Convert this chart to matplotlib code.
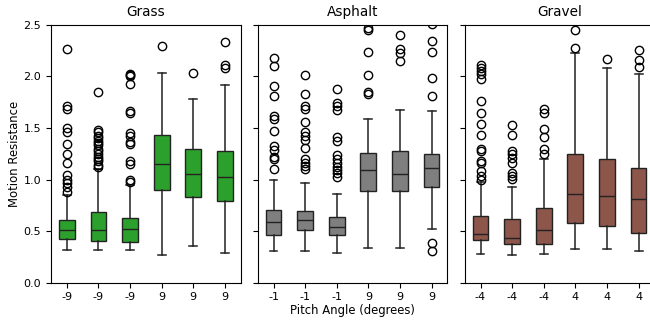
import matplotlib
matplotlib.use('Agg')
import matplotlib.pyplot as plt

# box statistics (q1, median, q3, whisker ends, outliers)
grass_labels = ['-9', '-9', '-9', '9', '9', '9']
grass_q1 = [0.426, 0.404, 0.397, 0.898, 0.827, 0.789]
grass_med = [0.508, 0.511, 0.517, 1.150, 1.053, 1.024]
grass_q3 = [0.607, 0.688, 0.624, 1.431, 1.300, 1.280]
grass_lo = [0.317, 0.317, 0.317, 0.269, 0.359, 0.285]
grass_hi = [0.850, 1.100, 0.947, 2.029, 1.780, 1.913]
grass_fliers = [
    [2.265, 1.71, 1.68, 1.50, 1.46, 1.34, 1.245, 1.16, 1.04, 1.00, 0.97, 0.93, 0.88],
    [1.85, 1.48, 1.46, 1.42, 1.40, 1.37, 1.35, 1.33, 1.30, 1.28, 1.25, 1.22,
     1.20, 1.18, 1.14, 1.12],
    [2.02, 2.01, 2.00, 1.93, 1.66, 1.64, 1.45, 1.42, 1.36, 1.34, 1.18, 1.15,
     1.00, 0.98],
    [2.29],
    [2.035],
    [2.33, 2.11, 2.08],
]

asphalt_labels = ['-1', '-1', '-1', '9', '9', '9']
asphalt_q1 = [0.459, 0.511, 0.462, 0.886, 0.886, 0.930]
asphalt_med = [0.585, 0.608, 0.537, 1.092, 1.056, 1.108]
asphalt_q3 = [0.704, 0.695, 0.640, 1.254, 1.276, 1.247]
asphalt_lo = [0.310, 0.310, 0.290, 0.339, 0.339, 0.523]
asphalt_hi = [0.995, 0.963, 0.857, 1.586, 1.673, 1.664]
asphalt_fliers = [
    [2.175, 2.10, 1.91, 1.81, 1.62, 1.59, 1.47, 1.325, 1.29, 1.215, 1.195, 1.10],
    [2.01, 1.825, 1.71, 1.68, 1.557, 1.46, 1.42, 1.38, 1.31, 1.196, 1.163,
     1.13, 1.105],
    [1.877, 1.744, 1.712, 1.673, 1.409, 1.37, 1.234, 1.196, 1.157, 1.124,
     1.092, 1.06, 1.027],
    [2.47, 2.45, 2.235, 2.01, 1.85, 1.83],
    [2.40, 2.26, 2.23, 2.15],
    [2.51, 2.339, 2.232, 1.986, 1.81, 0.382, 0.31],
]

gravel_labels = ['-4', '-4', '-4', '4', '4', '4']
gravel_q1 = [0.414, 0.372, 0.378, 0.575, 0.549, 0.479]
gravel_med = [0.475, 0.436, 0.508, 0.860, 0.840, 0.808]
gravel_q3 = [0.646, 0.617, 0.724, 1.247, 1.196, 1.108]
gravel_lo = [0.275, 0.268, 0.275, 0.327, 0.323, 0.307]
gravel_hi = [0.975, 0.927, 1.196, 2.223, 2.078, 2.025]
gravel_fliers = [
    [2.107, 2.08, 2.054, 2.022, 1.97, 1.764, 1.64, 1.538, 1.434, 1.30, 1.28,
     1.176, 1.157, 1.08, 1.034, 1.00],
    [1.528, 1.434, 1.28, 1.247, 1.208, 1.163, 1.066, 1.034, 1.008],
    [1.686, 1.64, 1.49, 1.41, 1.30, 1.247],
    [2.45, 2.277],
    [2.168],
    [2.258, 2.158, 2.087],
]

panels = [
    ('Grass', '#2ca02c', grass_labels, grass_q1, grass_med, grass_q3,
     grass_lo, grass_hi, grass_fliers),
    ('Asphalt', '#7f7f7f', asphalt_labels, asphalt_q1, asphalt_med, asphalt_q3,
     asphalt_lo, asphalt_hi, asphalt_fliers),
    ('Gravel', '#8c564b', gravel_labels, gravel_q1, gravel_med, gravel_q3,
     gravel_lo, gravel_hi, gravel_fliers),
]

fig = plt.figure(figsize=(6.5, 3.2), dpi=100)
lefts = [51 / 650, 257.7 / 650, 464.7 / 650]
width = 189.7 / 650
bottom = 37.3 / 320
height = 258.0 / 320

edge = '#222222'
axes = []
for i, (name, color, labels, q1, med, q3, lo, hi, fl) in enumerate(panels):
    ax = fig.add_axes([lefts[i], bottom, width, height])
    stats = []
    for j in range(len(labels)):
        stats.append({'q1': q1[j], 'med': med[j], 'q3': q3[j],
                      'whislo': lo[j], 'whishi': hi[j], 'fliers': fl[j]})
    ax.bxp(stats, positions=range(len(labels)), widths=0.5,
           patch_artist=True,
           boxprops=dict(facecolor=color, edgecolor=edge, linewidth=1.0),
           medianprops=dict(color=edge, linewidth=1.0),
           whiskerprops=dict(color=edge, linewidth=1.1),
           capprops=dict(color=edge, linewidth=1.1),
           flierprops=dict(marker='o', markerfacecolor='none',
                           markeredgecolor='black', markersize=6,
                           markeredgewidth=1.0))
    ax.set_xlim(-0.5, len(labels) - 0.5)
    ax.set_ylim(0, 2.5)
    ax.set_xticks(range(len(labels)))
    ax.set_xticklabels(labels)
    ax.set_yticks([0.0, 0.5, 1.0, 1.5, 2.0, 2.5])
    ax.tick_params(labelsize=8)
    if i > 0:
        ax.set_yticklabels([])
    ax.set_title(name, fontsize=9.8)
    axes.append(ax)

axes[0].set_ylabel('Motion Resistance', fontsize=8.4, labelpad=2)
axes[1].set_xlabel('Pitch Angle (degrees)', fontsize=8.4, labelpad=1)

fig.savefig('out.png', dpi=100)
